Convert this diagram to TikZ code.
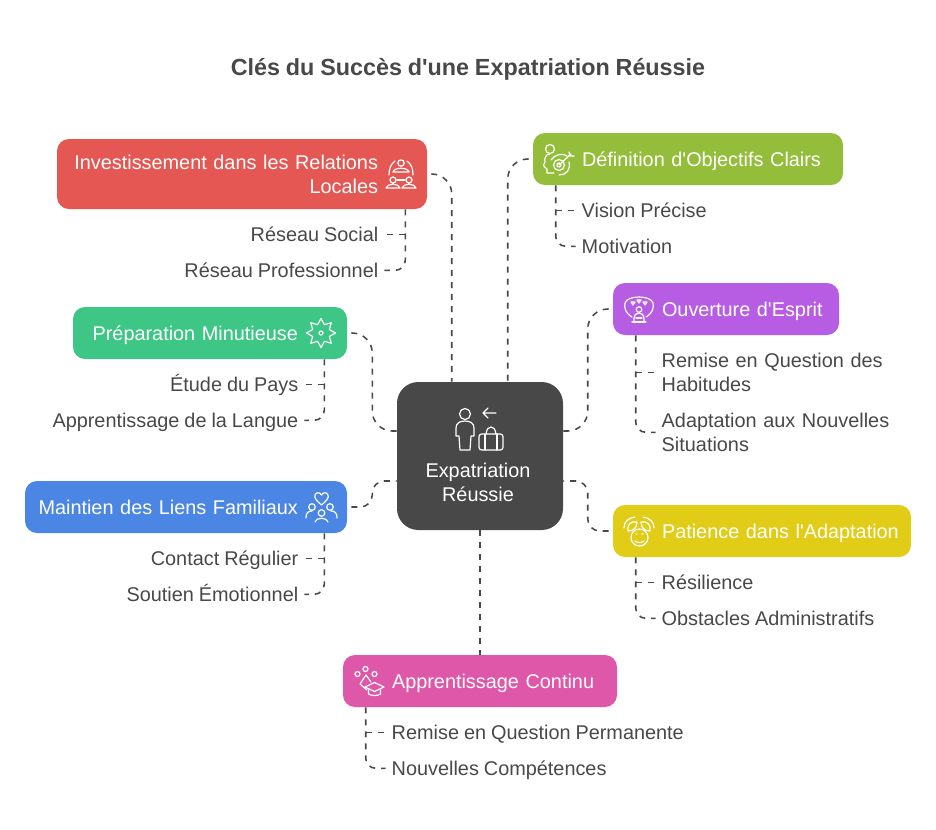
\documentclass[tikz,border=0pt]{standalone}
\usepackage{fontspec}
\setmainfont[WordSpace=0.9]{Liberation Sans}
\usepackage{xcolor}
\usetikzlibrary{positioning}
\usetikzlibrary{calc}

\definecolor{redbox}{HTML}{E55753}
\definecolor{greenbox}{HTML}{3DC685}
\definecolor{bluebox}{HTML}{4B86E4}
\definecolor{limebox}{HTML}{93BD3B}
\definecolor{purplebox}{HTML}{B75DE3}
\definecolor{yellowbox}{HTML}{E1CC17}
\definecolor{pinkbox}{HTML}{DE57A8}
\definecolor{darkbox}{HTML}{484848}

\newcommand{\iconpad}{\rule{36.75pt}{0pt}}
\newcommand{\hubpad}{\rule{3pt}{0pt}}

\begin{document}
\begin{tikzpicture}[
          x=0.75pt,y=-0.75pt,
          topic/.style={rounded corners=9pt,inner sep=0pt,minimum height=39pt,text=white,
            font=\fontsize{14.9pt}{18pt}\selectfont,text height=14.2pt,text depth=3.3pt},
          subitem/.style={inner sep=0pt,outer xsep=4.5pt,text=darkbox,
            font=\fontsize{14.9pt}{18pt}\selectfont,text height=14.2pt,text depth=3.3pt},
          conn/.style={draw=darkbox,line width=1.15pt,dash pattern=on 4.5pt off 4.5pt,rounded corners=15pt},
          branch/.style={conn,rounded corners=7.5pt},
          iconline/.style={draw=white,line width=0.9pt,line join=round,line cap=round}
          ]
          \useasboundingbox (0,0) rectangle (936,829);

          \node[text=darkbox,font=\fontsize{17.5pt}{22pt}\selectfont\bfseries] (title) at (468,69.5) {Clés du Succès d\textquotesingle une Expatriation Réussie};

          % central box
          \node[topic,fill=darkbox,rounded corners=16pt,text width=124.5pt,minimum height=111pt,align=center,
            text height=50.5pt,text depth=18pt] (hub) at (480,456) {Expatriation\hubpad\\Réussie\hubpad};

          % topics
          \node[topic,fill=redbox,text width=277.5pt,minimum height=52.5pt,align=right,text depth=21.3pt] (red) at (242,174)
            {Investissement dans les Relations\iconpad\\Locales\iconpad};
          \node[topic,fill=greenbox,text width=205.5pt,align=right] (green) at (210,333) {Préparation Minutieuse\iconpad};
          \node[topic,fill=bluebox,text width=241.5pt,align=right] (blue) at (186,507) {Maintien des Liens Familiaux\iconpad};
          \node[topic,fill=limebox,text width=232.5pt,align=left] (lime) at (688,159) {\iconpad Définition d\textquotesingle Objectifs Clairs};
          \node[topic,fill=purplebox,text width=169.5pt,align=left] (purple) at (726,309) {\iconpad Ouverture d\textquotesingle Esprit};
          \node[topic,fill=yellowbox,text width=223.5pt,align=left] (yellow) at (762,531) {\iconpad Patience dans l\textquotesingle Adaptation};
          \node[topic,fill=pinkbox,text width=205.5pt,align=left] (pink) at (480,681) {\iconpad Apprentissage Continu};

          % sub items
          \node[subitem,anchor=east] (social) at ($(red.south east)+(-43,25)$) {Réseau Social};
          \node[subitem,anchor=east] (pro) at ($(social.east)+(0,36)$) {Réseau Professionnel};
          \node[subitem,anchor=east] (pays) at ($(green.south east)+(-43,25)$) {Étude du Pays};
          \node[subitem,anchor=east] (langue) at ($(pays.east)+(0,36)$) {Apprentissage de la Langue};
          \node[subitem,anchor=east] (contact) at ($(blue.south east)+(-43,25)$) {Contact Régulier};
          \node[subitem,anchor=east] (soutien) at ($(contact.east)+(0,36)$) {Soutien Émotionnel};
          \node[subitem,anchor=west] (vision) at ($(lime.south west)+(43,25)$) {Vision Précise};
          \node[subitem,anchor=west] (motiv) at ($(vision.west)+(0,36)$) {Motivation};
          \node[subitem,anchor=west,text width=180pt,align=left,text depth=21.3pt] (remise) at ($(purple.south west)+(43,37)$) {Remise en Question des\\Habitudes};
          \node[subitem,anchor=west,text width=180pt,align=left,text depth=21.3pt] (adapt) at ($(remise.west)+(0,60)$) {Adaptation aux Nouvelles\\Situations};
          \node[subitem,anchor=west] (resil) at ($(yellow.south west)+(43,25)$) {Résilience};
          \node[subitem,anchor=west] (obst) at ($(resil.west)+(0,36)$) {Obstacles Administratifs};
          \node[subitem,anchor=west] (perm) at ($(pink.south west)+(43,25)$) {Remise en Question Permanente};
          \node[subitem,anchor=west] (comp) at ($(perm.west)+(0,36)$) {Nouvelles Compétences};

          % hub connectors
          \draw[conn] ($(red.east)+(4,0)$) -| ($(hub.north west)+(55,0)$);
          \draw[conn] ($(lime.west)+(-4,0)$) -| ($(hub.north west)+(111,0)$);
          \draw[conn] ($(green.east)+(4,0)$) -- ++(21,0) |- ($(hub.west)+(0,-25)$);
          \draw[conn,rounded corners=9pt] ($(blue.east)+(4,0)$) -- ++(21,0) |- ($(hub.west)+(0,25)$);
          \draw[conn] ($(purple.west)+(-4,0)$) -- ++(-21,0) |- ($(hub.east)+(0,-25)$);
          \draw[conn,rounded corners=9pt] ($(yellow.west)+(-4,0)$) -- ++(-21,0) |- ($(hub.east)+(0,25)$);
          \draw[conn] (hub.south) -- (pink.north);

          % branches
          \draw[branch] ($(red.south east)+(-22,0)$) |- (pro.east);
          \draw[branch] ($(red.south east)+(-22,25)$) -- (social.east);
          \draw[branch] ($(green.south east)+(-23,0)$) |- (langue.east);
          \draw[branch] ($(green.south east)+(-23,25)$) -- (pays.east);
          \draw[branch] ($(blue.south east)+(-23,0)$) |- (soutien.east);
          \draw[branch] ($(blue.south east)+(-23,25)$) -- (contact.east);
          \draw[branch] ($(lime.south west)+(23,0)$) |- (motiv.west);
          \draw[branch] ($(lime.south west)+(23,25)$) -- (vision.west);
          \draw[branch] ($(purple.south west)+(23,0)$) |- (adapt.west);
          \draw[branch] ($(purple.south west)+(23,37)$) -- (remise.west);
          \draw[branch] ($(yellow.south west)+(23,0)$) |- (obst.west);
          \draw[branch] ($(yellow.south west)+(23,25)$) -- (resil.west);
          \draw[branch] ($(pink.south west)+(23,0)$) |- (comp.west);
          \draw[branch] ($(pink.south west)+(23,25)$) -- (perm.west);

          % hub icon
          \draw[iconline] (465,414) circle (5.5);
          \draw[iconline] (460,450) -- (459,436) -- (456,436) -- (456,428) .. controls (456,423) and (460,421) .. (465,421)
            .. controls (470,421) and (474,423) .. (474,428) -- (474,436) -- (471,436) -- (470,450) -- cycle;
          \draw[iconline] (496,413) -- (483,413) (488,408) -- (483,413) -- (488,418);
          \draw[iconline,rounded corners=2pt] (479,434) rectangle (503,450);
          \draw[iconline] (485,434) -- (485,450) (497,434) -- (497,450);
          \draw[iconline] (486,434) .. controls (487,429) and (488,427) .. (491,427) .. controls (494,427) and (495,429) .. (496,434);

          % red icon
          \draw[iconline] (401,163) circle (3.2) (393,172) .. controls (394,167) and (408,167) .. (409,172) -- cycle;
          \draw[iconline] (389,175) .. controls (389,168) and (391,164) .. (395,161) (413,175) .. controls (413,168) and (411,164) .. (407,161);
          \draw[iconline] (393,180) circle (3) (386,188) .. controls (387,183) and (399,183) .. (400,188) -- cycle;
          \draw[iconline] (409,180) circle (3) (402,188) .. controls (403,183) and (415,183) .. (416,188) -- cycle;
          \draw[iconline] (397,180) -- (405,180);

          % green icon
          \draw[iconline] (321,333) circle (2);
          \draw[iconline,shift={(321,333)}] (90:14.5) \foreach \a in {112.5,135,...,427.5} {-- ({\a}:{14.5-5.5*mod((\a-90)/22.5,2)})} -- cycle;

          % blue icon
          \draw[iconline] (321.5,505) .. controls (316,500) and (314,498) .. (315,495) .. controls (316,492) and (320,492) .. (321.5,495)
            .. controls (323,492) and (327,492) .. (328,495) .. controls (329,498) and (327,500) .. (321.5,505) -- cycle;
          \draw[iconline] (312,507) circle (3.3) (330,507) circle (3.3) (321.5,513) circle (3.3);
          \draw[iconline] (306,518) .. controls (306,513) and (308,511) .. (312,511) (337,518) .. controls (337,513) and (335,511) .. (331,511);
          \draw[iconline] (315,522) .. controls (316,517) and (327,517) .. (328,522);

          % lime icon
          \draw[iconline] (550,149) circle (4.5);
          \draw[iconline] (550,154) .. controls (546,154) and (544,158) .. (545,162) .. controls (542,166) and (545,168) .. (547,169) -- (547,173) -- (554,173);
          \draw[iconline] (559,165) circle (2) (559,165) circle (5.5);
          \draw[iconline] (567,156) .. controls (563,153) and (555,154) .. (551,160) (569,162) .. controls (571,170) and (566,175) .. (559,175);
          \draw[iconline] (559,165) -- (571,154) (569,152) -- (570,156) -- (574,156);

          % purple icon
          \draw[iconline] (632,317) .. controls (625,313) and (624,307) .. (625,303) .. controls (627,295) and (651,295) .. (653,303)
            .. controls (654,307) and (653,313) .. (646,317);
          \draw[iconline] (631,302) -- (635,302) -- (633,305) -- cycle (637,300) -- (641,300) -- (639,303) -- cycle (643,302) -- (647,302) -- (645,305) -- cycle;
          \draw[iconline] (639,309.5) circle (2.8);
          \draw[iconline] (634,322) -- (634,318) .. controls (634,315) and (636,313) .. (639,313) .. controls (642,313) and (644,315) .. (644,318) -- (644,322);
          \draw[iconline] (632,322) -- (646,322) (636,318) -- (642,318);

          % yellow icon
          \draw[iconline] (639.5,537.5) circle (8.5);
          \draw[iconline] (636,534) -- (637,534) (642,534) -- (643,534) (635,541) .. controls (637,543) and (642,543) .. (644,541);
          \draw[iconline] (628,531) .. controls (627,524) and (631,521) .. (637,522) .. controls (637,528) and (633,531) .. (628,531) -- cycle;
          \draw[iconline] (624,528) .. controls (624,522) and (628,518) .. (635,517);
          \draw[iconline] (650,531) .. controls (651,524) and (647,521) .. (641,522) .. controls (641,528) and (645,531) .. (650,531) -- cycle;
          \draw[iconline] (654,528) .. controls (654,522) and (650,518) .. (643,517);

          % pink icon
          \draw[iconline] (357.5,674) circle (2.5) (365.5,669) circle (2.5) (374.5,674) circle (2.5);
          \draw[iconline] (360,684) -- (366,675) -- (371,682) (360,684) -- (367,690);
          \draw[iconline] (365,687) -- (374.5,682.5) -- (384,687) -- (374.5,691.5) -- cycle;
          \draw[iconline] (368.5,690) -- (368.5,694) .. controls (371,696) and (378,696) .. (380.5,694) -- (380.5,690);
        \end{tikzpicture}
\end{document}
